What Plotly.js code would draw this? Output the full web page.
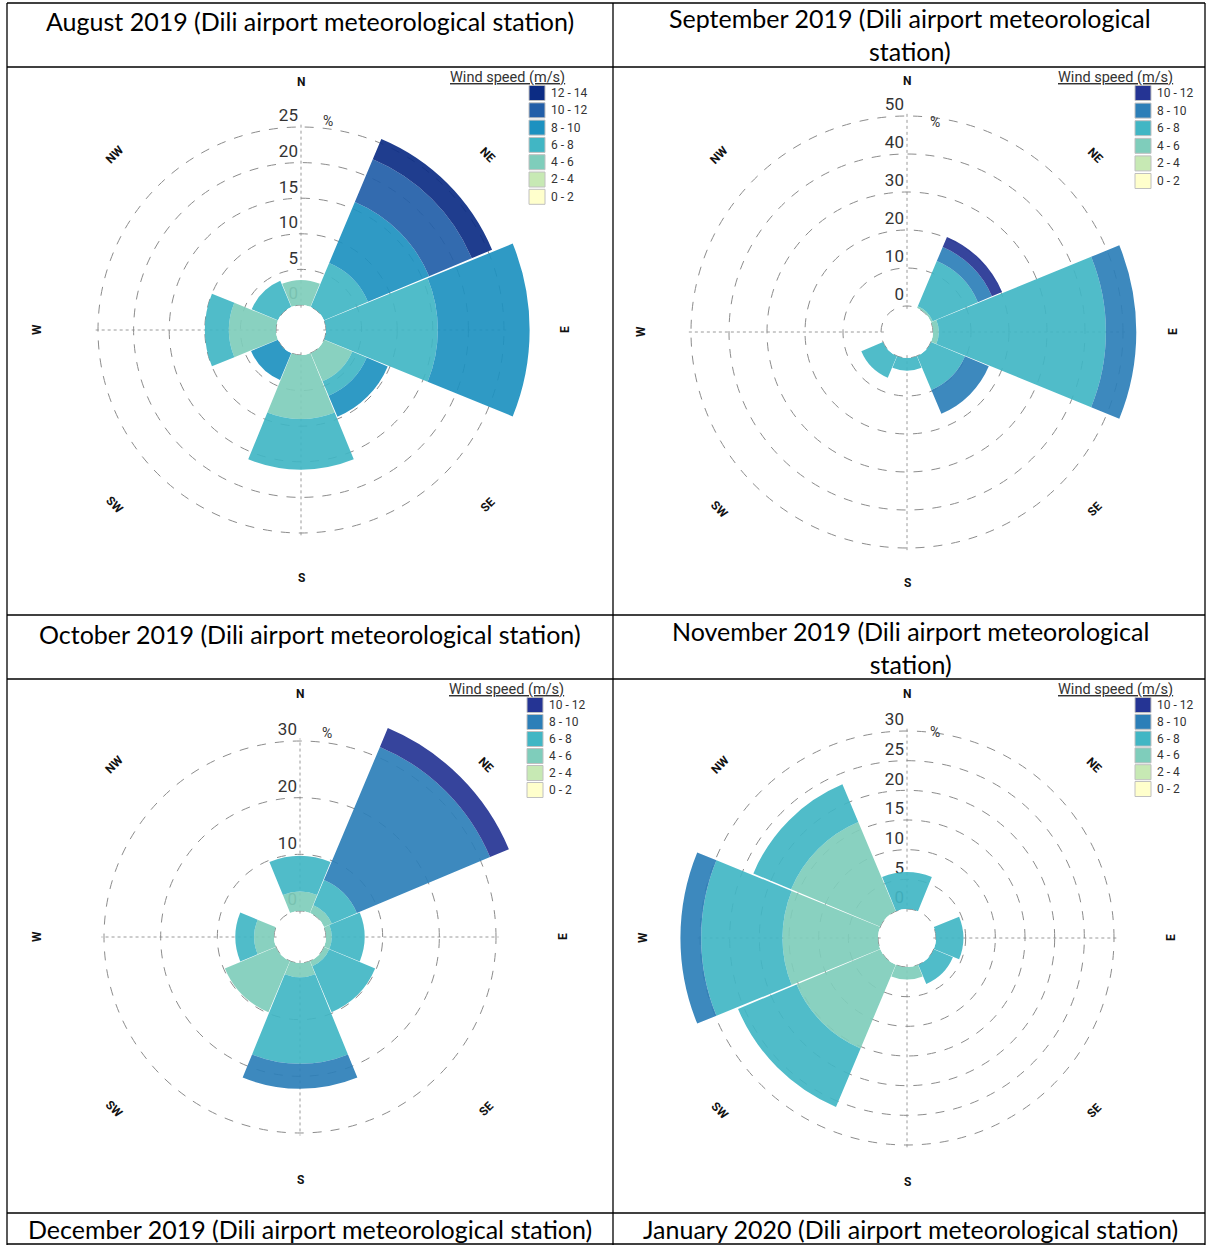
<!DOCTYPE html>
<html><head><meta charset="utf-8">
<script src="https://cdn.plot.ly/plotly-3.0.1.min.js"></script>
<style>html,body{margin:0;padding:0;background:#fff}#chart{width:1206px;height:1245px}</style>
</head><body><div id="chart"></div>
<script>
// ---------------- DATA ----------------
const directions = ['N','NE','E','SE','S','SW','W','NW'];
const dirAngles = [0,45,90,135,180,225,270,315];
const speedBins7 = ['0 - 2','2 - 4','4 - 6','6 - 8','8 - 10','10 - 12','12 - 14'];
const speedBins6 = ['0 - 2','2 - 4','4 - 6','6 - 8','8 - 10','10 - 12'];
const colors7 = ['#ffffcc','#c7e9b4','#7fcdbb','#41b6c4','#1d91c0','#225ea8','#0c2c84'];
const colors6 = ['#ffffcc','#c7e9b4','#7fcdbb','#41b6c4','#2c7fb8','#253494'];

// frequency (%) per speed bin; each row ordered N, NE, E, SE, S, SW, W, NW
const augFreq = [
  [0,0,0,0,0,0,0,0],          // 0-2
  [0,0,0,0,0,0,0,0],          // 2-4
  [3.5,0,0,4.3,9.0,0,6.6,0],  // 4-6
  [0,6.7,15.7,2.2,7.1,0,3.4,4.0], // 6-8
  [0,9.3,12.9,3.2,0,4.1,0,0], // 8-10
  [0,6.5,0,0,0,0,0,0],        // 10-12
  [0,3.1,0,0,0,0,0,0]         // 12-14
];
const sepFreq = [
  [0,0,0,0,0,0,0,0],
  [0,0,0,0,0,0,0,0],
  [0,0.5,1.5,0,0,0,0,0],
  [0,12.9,44.0,9.7,3.3,6.2,0,0],
  [0,4.0,8.0,6.8,0,0,0,0],
  [0,2.9,0,0,0,0,0,0]
];
const octFreq = [
  [0,0,0,0,0,0,0,0],
  [0,0,0,0,0,0,0,0],
  [3.4,1.5,1.0,1.0,2.5,9.8,3.5,0],
  [6.3,4.8,5.8,8.8,15.3,0,3.3,0],
  [0,25.5,0,0,4.4,0,0,0],
  [0,3.6,0,0,0,0,0,0]
];
const novFreq = [
  [0,0,0,0,0,0,0,0],
  [0,0,0,0,0,0,0,0],
  [0,0,0,0,2.1,15.3,16.1,16.3],
  [6.2,0,4.6,3.5,0,10.7,13.7,6.9],
  [0,0,0,0,0,0,3.5,0],
  [0,0,0,0,0,0,0,0]
];
const augTicks = [0,5,10,15,20,25];
const sepTicks = [0,10,20,30,40,50];
const octTicks = [0,10,20,30];
const novTicks = [0,5,10,15,20,25,30];

const cellTitles = [
  'August 2019 (Dili airport meteorological station)',
  'September 2019 (Dili airport meteorological<br>station)',
  'October 2019 (Dili airport meteorological station)',
  'November 2019 (Dili airport meteorological<br>station)',
  'December 2019 (Dili airport meteorological station)',
  'January 2020 (Dili airport meteorological station)'
];
const legendTitle = 'Wind speed (m/s)';
const unitLabel = '%';

// ---------------- LAYOUT GEOMETRY ----------------
const W = 1206, H = 1245;
const fx = x => x / W, fy = y => 1 - y / H;

const panels = [
  {freq:augFreq, ticks:augTicks, bins:speedBins7, colors:colors7, cx:301, cy:330, R:203, h:25,
   legX:529, legY0:93, legStep:17.3, legTX:448, legTY:77, pctX:328, pctY:121, lrx:264, lry:248},
  {freq:sepFreq, ticks:sepTicks, bins:speedBins6, colors:colors6, cx:907, cy:332, R:216, h:26,
   legX:1135, legY0:93, legStep:17.6, legTX:1056, legTY:77, pctX:935, pctY:122, lrx:266, lry:251},
  {freq:octFreq, ticks:octTicks, bins:speedBins6, colors:colors6, cx:300, cy:937, R:196, h:26,
   legX:527, legY0:705, legStep:17, legTX:447, legTY:689, pctX:327, pctY:733, lrx:263, lry:243},
  {freq:novFreq, ticks:novTicks, bins:speedBins6, colors:colors6, cx:907, cy:938, R:207, h:29,
   legX:1135, legY0:705, legStep:16.8, legTX:1056, legTY:689, pctX:935, pctY:732, lrx:264, lry:244}
];
const compassAngle = {N:0, NE:45, E:-90, SE:-45, S:0, SW:45, W:-90, NW:-45};

const traces = [];
const layout = {
  width: W, height: H, margin: {l:0, r:0, t:0, b:0},
  paper_bgcolor: '#ffffff', showlegend: false,
  font: {family: 'Roboto, sans-serif', color: '#333'},
  shapes: [], annotations: []
};

panels.forEach((p, i) => {
  const gid = i === 0 ? 'polar' : 'polar' + (2*i + 1);
  const bid = 'polar' + (2*i + 2);
  const gmax = p.ticks[p.ticks.length - 1];
  const k = 1.2;
  const R2 = p.h + (p.R - p.h) * k;
  const vmax2 = gmax * k;
  const eps = gmax * 0.015;
  // grid radius slightly extended so the outer ring and the 0 ring are drawn
  const Rg = p.h + (p.R - p.h) * (gmax + eps) / gmax;
  const hg = p.h - (p.R - p.h) * eps / gmax;

  // grid layer (underneath)
  layout[gid] = {
    domain: {x: [fx(p.cx - Rg), fx(p.cx + Rg)], y: [fy(p.cy + Rg), fy(p.cy - Rg)]},
    hole: hg / Rg,
    bgcolor: 'rgba(0,0,0,0)',
    radialaxis: {range: [-eps, gmax + eps], tickvals: p.ticks, ticktext: p.ticks.map(v => v + '<br> '),
      angle: 90, tickangle: 90, side: 'counterclockwise', showline: false, ticks: '',
      gridcolor: '#8c8c8c', griddash: 'dash', gridwidth: 1,
      tickfont: {family: 'Roboto', size: 17, color: '#333'}},
    angularaxis: {rotation: 90, direction: 'clockwise', tickvals: [0,90,180,270],
      showticklabels: false, ticks: '', showline: false,
      gridcolor: '#9a9a9a', griddash: 'dot', gridwidth: 1}
  };
  traces.push({type: 'scatterpolar', subplot: gid, r: [0], theta: [0], mode: 'markers',
    marker: {opacity: 0, size: 1}, hoverinfo: 'skip', showlegend: false});

  // bars layer (on top)
  layout[bid] = {
    domain: {x: [fx(p.cx - R2), fx(p.cx + R2)], y: [fy(p.cy + R2), fy(p.cy - R2)]},
    hole: p.h / R2,
    bgcolor: 'rgba(0,0,0,0)',
    barmode: 'stack',
    radialaxis: {range: [0, vmax2], visible: false},
    angularaxis: {rotation: 90, direction: 'clockwise', visible: false}
  };
  p.freq.forEach((row, j) => {
    traces.push({type: 'barpolar', subplot: bid, r: row, theta: dirAngles, width: 44.4,
      name: p.bins[j], marker: {color: p.colors[j], opacity: 0.92, line: {width: 0}},
      customdata: directions, hovertemplate: '%{customdata}: %{r}%<extra>' + p.bins[j] + ' m/s</extra>',
      showlegend: false});
  });

  // compass labels
  directions.forEach((d, j) => {
    const a = dirAngles[j] * Math.PI / 180;
    layout.annotations.push({xref: 'paper', yref: 'paper', showarrow: false,
      x: fx(p.cx + p.lrx * Math.sin(a)), y: fy(p.cy - p.lry * Math.cos(a)),
      xanchor: 'center', yanchor: 'middle', text: d, textangle: compassAngle[d],
      font: {family: 'Roboto', size: 12, color: '#111', weight: 'bold'}});
  });
  // % label
  layout.annotations.push({xref: 'paper', yref: 'paper', showarrow: false,
    x: fx(p.pctX), y: fy(p.pctY), xanchor: 'center', yanchor: 'middle', text: unitLabel,
    font: {family: 'Roboto', size: 14, color: '#333'}});
  // legend
  layout.annotations.push({xref: 'paper', yref: 'paper', showarrow: false,
    x: fx(p.legTX), y: fy(p.legTY), xanchor: 'left', yanchor: 'middle',
    text: '<u>' + legendTitle + '</u>', font: {family: 'Roboto', size: 14.5, color: '#333'}});
  const n = p.bins.length;
  for (let j = n - 1; j >= 0; j--) {
    const yc = p.legY0 + (n - 1 - j) * p.legStep;
    layout.shapes.push({type: 'rect', xref: 'paper', yref: 'paper',
      x0: fx(p.legX), x1: fx(p.legX + 16), y0: fy(yc + 7.5), y1: fy(yc - 7.5),
      fillcolor: p.colors[j], line: {color: '#c0c0c0', width: 1}});
    layout.annotations.push({xref: 'paper', yref: 'paper', showarrow: false,
      x: fx(p.legX + 20), y: fy(yc), xanchor: 'left', yanchor: 'middle', text: p.bins[j],
      font: {family: 'Roboto', size: 12, color: '#333'}});
  }
});

// table grid
const vLines = [7, 613, 1205];
const hLines = [3, 67, 615, 679, 1213, 1244];
vLines.forEach(x => layout.shapes.push({type: 'line', xref: 'paper', yref: 'paper',
  x0: fx(x), x1: fx(x), y0: fy(3), y1: fy(1245), line: {color: '#000', width: 1.3}}));
hLines.forEach(y => layout.shapes.push({type: 'line', xref: 'paper', yref: 'paper',
  x0: fx(7), x1: fx(1205), y0: fy(y), y1: fy(y), line: {color: '#000', width: 1.3}}));

// cell titles
const titlePos = [[310, 21], [910, 34.5], [310, 634], [910, 647], [310, 1229], [910, 1229]];
cellTitles.forEach((t, i) => {
  layout.annotations.push({xref: 'paper', yref: 'paper', showarrow: false,
    x: fx(titlePos[i][0]), y: fy(titlePos[i][1]), xanchor: 'center', yanchor: 'middle',
    text: t, font: {family: 'Lato', size: 25, color: '#000'}});
});

Plotly.newPlot('chart', traces, layout, {displayModeBar: false, responsive: false});
</script></body></html>
